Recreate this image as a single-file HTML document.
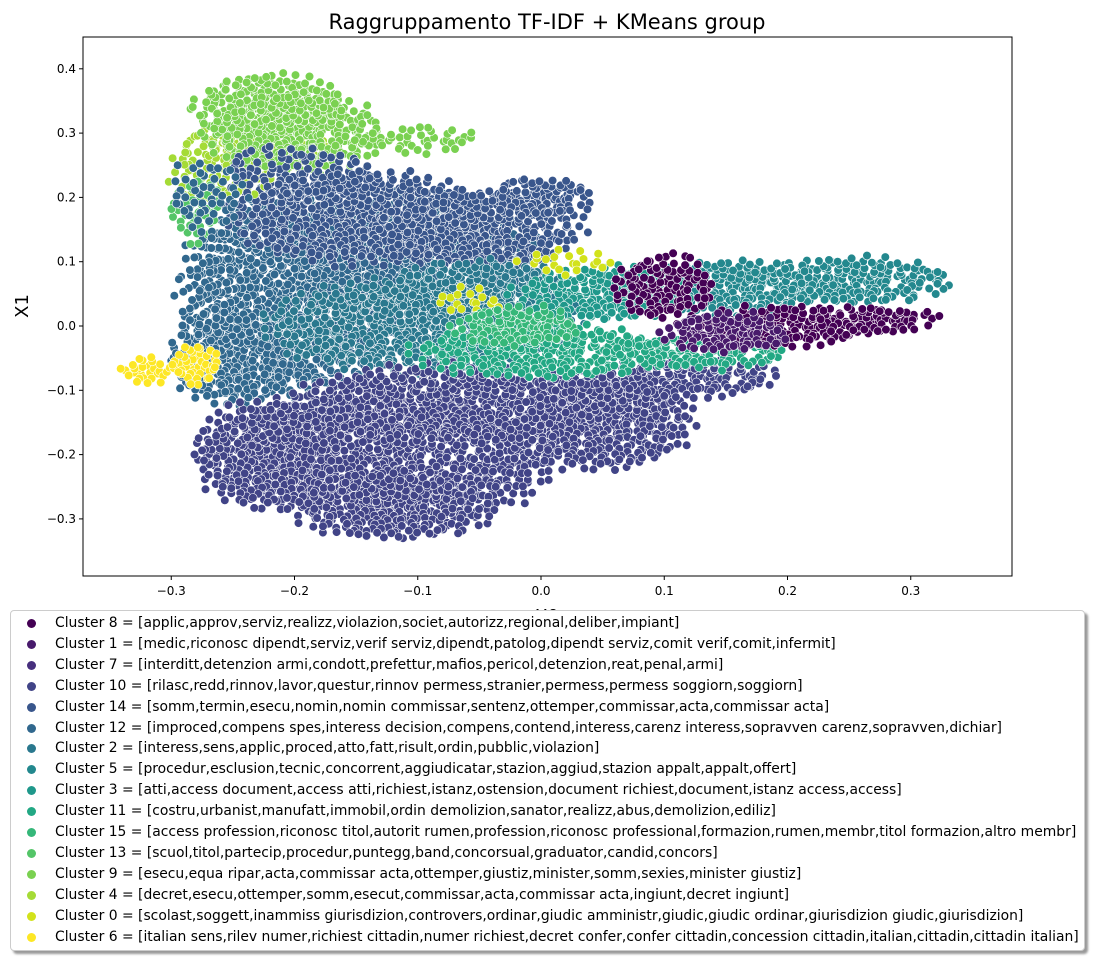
<!DOCTYPE html>
<html><head><meta charset="utf-8"><style>
body{margin:0;background:#fff;width:1094px;height:959px;overflow:hidden;font-family:"DejaVu Sans","Liberation Sans",sans-serif}
svg{position:absolute;left:0;top:0}
#legend{position:absolute;left:10px;top:610px;width:1075px;height:341px;border:1px solid #ccc;border-radius:4px;background:#fff;box-shadow:3px 3px 2px #999;box-sizing:border-box}
.le{position:absolute;left:0;height:20px;font-size:13.9px;line-height:20px;white-space:nowrap}
.le span.m{position:absolute;left:16px;top:6px;width:9px;height:9px;border-radius:50%}
.le span.t{position:absolute;left:44px}
</style></head><body>
<svg id="chart" width="1094" height="959"></svg>
<div id="legend"></div>
<script>
const clusterNames=["Cluster 8","Cluster 1","Cluster 7","Cluster 10","Cluster 14","Cluster 12","Cluster 2","Cluster 5","Cluster 3","Cluster 11","Cluster 15","Cluster 13","Cluster 9","Cluster 4","Cluster 0","Cluster 6"];
const clusterTerms=["[applic,approv,serviz,realizz,violazion,societ,autorizz,regional,deliber,impiant]","[medic,riconosc dipendt,serviz,verif serviz,dipendt,patolog,dipendt serviz,comit verif,comit,infermit]","[interditt,detenzion armi,condott,prefettur,mafios,pericol,detenzion,reat,penal,armi]","[rilasc,redd,rinnov,lavor,questur,rinnov permess,stranier,permess,permess soggiorn,soggiorn]","[somm,termin,esecu,nomin,nomin commissar,sentenz,ottemper,commissar,acta,commissar acta]","[improced,compens spes,interess decision,compens,contend,interess,carenz interess,sopravven carenz,sopravven,dichiar]","[interess,sens,applic,proced,atto,fatt,risult,ordin,pubblic,violazion]","[procedur,esclusion,tecnic,concorrent,aggiudicatar,stazion,aggiud,stazion appalt,appalt,offert]","[atti,access document,access atti,richiest,istanz,ostension,document richiest,document,istanz access,access]","[costru,urbanist,manufatt,immobil,ordin demolizion,sanator,realizz,abus,demolizion,ediliz]","[access profession,riconosc titol,autorit rumen,profession,riconosc professional,formazion,rumen,membr,titol formazion,altro membr]","[scuol,titol,partecip,procedur,puntegg,band,concorsual,graduator,candid,concors]","[esecu,equa ripar,acta,commissar acta,ottemper,giustiz,minister,somm,sexies,minister giustiz]","[decret,esecu,ottemper,somm,esecut,commissar,acta,commissar acta,ingiunt,decret ingiunt]","[scolast,soggett,inammiss giurisdizion,controvers,ordinar,giudic amministr,giudic,giudic ordinar,giurisdizion giudic,giurisdizion]","[italian sens,rilev numer,richiest cittadin,numer richiest,decret confer,confer cittadin,concession cittadin,italian,cittadin,cittadin italian]"];
const clusterColors=["#440154","#481a6c","#472f7d","#414487","#39568c","#31688e","#2a788e","#23888e","#1f988b","#22a884","#35b779","#54c568","#7ad151","#a5db36","#d2e21b","#fde725"];
// point regions: cluster index, center x, center y, radius x, radius y (data units)
const regionCluster=[5,5,5,4,4,4,6,6,3,3,3,3,3,3,7,7,8,9,9,0,0,0,1,14,14,15,15,10,13,11,13,12,12,12,4,5];
const regionCX=[-0.2,-0.1,-0.25,-0.15,-0.05,0.0,-0.1,-0.05,-0.12,-0.05,0.05,0.12,-0.22,-0.12,0.25,0.15,0.05,0.0,0.13,0.2,0.1,0.27,0.15,0.02,-0.06,-0.32,-0.28,-0.02,-0.26,-0.28,-0.22,-0.22,-0.2,-0.1,-0.2,-0.27];
const regionCY=[0.05,0.1,-0.05,0.17,0.15,0.2,0.0,0.05,-0.2,-0.12,-0.15,-0.08,-0.2,-0.28,0.07,0.06,0.05,-0.04,-0.04,0.0,0.06,0.01,-0.01,0.1,0.04,-0.07,-0.06,0.0,0.25,0.18,0.28,0.34,0.3,0.29,0.24,0.2];
const regionRX=[0.09,0.1,0.05,0.1,0.08,0.04,0.12,0.08,0.13,0.15,0.07,0.07,0.06,0.08,0.08,0.08,0.07,0.1,0.07,0.07,0.04,0.05,0.05,0.04,0.03,0.02,0.02,0.05,0.04,0.02,0.05,0.06,0.07,0.05,0.06,0.03];
const regionRY=[0.15,0.1,0.07,0.07,0.06,0.03,0.07,0.05,0.1,0.06,0.07,0.03,0.08,0.05,0.035,0.04,0.04,0.04,0.025,0.03,0.05,0.02,0.03,0.02,0.02,0.02,0.03,0.03,0.06,0.05,0.04,0.05,0.06,0.02,0.04,0.06];
const regionDensity=[34,34,34,34,34,34,34,34,34,34,34,34,34,34,34,34,34,34,34,34,40,34,34,90,90,34,34,34,60,60,45,34,34,60,70,80];
const xTicks=[-0.3,-0.2,-0.1,0.0,0.1,0.2,0.3];
const yTicks=[-0.3,-0.2,-0.1,0.0,0.1,0.2,0.3,0.4];
const xTickLabels=["\u22120.3","\u22120.2","\u22120.1","0.0","0.1","0.2","0.3"];
const yTickLabels=["\u22120.3","\u22120.2","\u22120.1","0.0","0.1","0.2","0.3","0.4"];

const NS="http://www.w3.org/2000/svg";
const svg=document.getElementById('chart');
const L=83,R=1012,T=37,B=576;
const xs=v=>541+v*1232.5;
const ys=v=>326-v*643;
function mk(tag,attrs,parent){const e=document.createElementNS(NS,tag);for(const k in attrs)e.setAttribute(k,attrs[k]);(parent||svg).appendChild(e);return e;}
const title=mk('text',{x:547,y:29,'text-anchor':'middle','font-size':21});
title.textContent="Raggruppamento TF-IDF + KMeans group";


const clip=mk('clipPath',{id:'pc'});mk('rect',{x:L,y:T,width:R-L,height:B-T},clip);
const pts=mk('g',{'clip-path':'url(#pc)'});


const GA=2.39996;
for(let r=0;r<regionCluster.length;r++){
  const cx=xs(regionCX[r]),cy=ys(regionCY[r]),rx=regionRX[r]*1232.5,ry=regionRY[r]*643;
  const n=Math.max(6,Math.round(Math.PI*rx*ry/regionDensity[r]));
  const g=mk('g',{fill:clusterColors[regionCluster[r]],stroke:'#fff','stroke-width':0.6},pts);
  
  
  for(let i=0;i<n;i++){
    const rr=Math.sqrt((i+0.5)/n)*(1+0.12*Math.sin(i*7.13)),a=i*GA;
    mk('circle',{cx:(cx+rx*rr*Math.cos(a)+2*Math.sin(i*3.7)).toFixed(1),cy:(cy+ry*rr*Math.sin(a)+2*Math.cos(i*5.3)).toFixed(1),r:4.3},g);
  }
}
const frame=mk('rect',{x:L,y:T,width:R-L,height:B-T,fill:'none',stroke:'#000','stroke-width':1});


xTicks.forEach((v,i)=>{const x=xs(v);mk('line',{x1:x,x2:x,y1:B,y2:B+4,stroke:'#000'});
  const t=mk('text',{x:x,y:B+19,'text-anchor':'middle','font-size':12});t.textContent=xTickLabels[i];
  
  });
yTicks.forEach((v,i)=>{const y=ys(v);mk('line',{x1:L-4,x2:L,y1:y,y2:y,stroke:'#000'});
  const t=mk('text',{x:L-7,y:y+4,'text-anchor':'end','font-size':12});t.textContent=yTickLabels[i];
  
  });
const xl=mk('text',{x:547,y:622,'text-anchor':'middle','font-size':18});xl.textContent="X0";


const yl=mk('text',{x:0,y:0,'text-anchor':'middle','font-size':18,transform:'translate(28,306) rotate(-90)'});yl.textContent="X1";


const leg=document.getElementById('legend');
clusterNames.forEach((n,i)=>{const d=document.createElement('div');d.className='le';d.style.top=(2+i*20.9)+'px';
  
  
  d.innerHTML='<span class="m" style="background:'+clusterColors[i]+'"></span><span class="t">'+n+' = '+clusterTerms[i]+'</span>';leg.appendChild(d);});
</script>
</body></html>
